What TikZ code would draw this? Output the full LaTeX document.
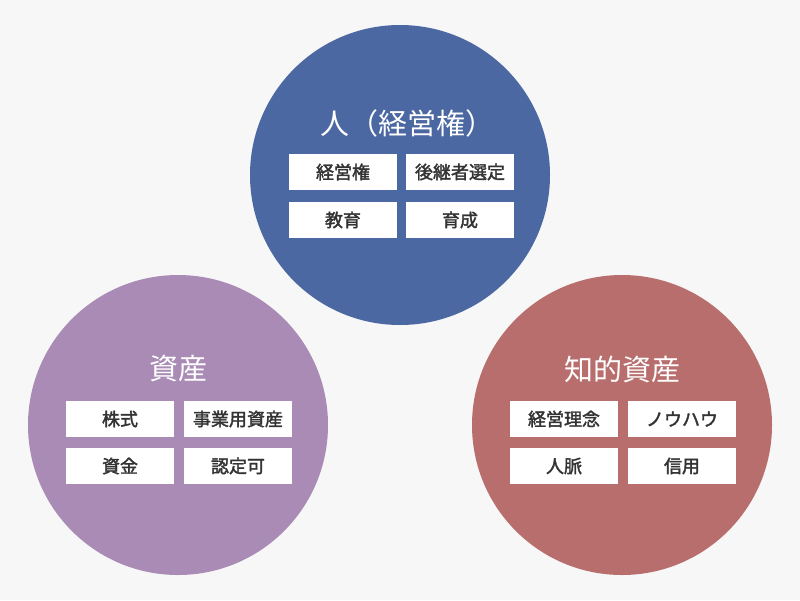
\documentclass[tikz,border=0pt]{standalone}
\usepackage{fontspec}
\setmainfont{Noto Sans CJK JP}
\newfontfamily\jpbold{Noto Sans CJK JP}[FakeBold=2]
\definecolor{bgcol}{HTML}{F7F7F7}
\definecolor{hitocol}{HTML}{4B68A2}
\definecolor{shisancol}{HTML}{A98BB5}
\definecolor{chitekicol}{HTML}{B86E6D}
\definecolor{textcol}{HTML}{333333}
\begin{document}
\begin{tikzpicture}[x=1pt,y=-1pt,
  kou/.style={fill=white,minimum width=108pt,minimum height=36pt,inner sep=0pt,
    font=\jpbold\fontsize{18}{18}\selectfont,text=textcol},
  midashi/.style={text=white,font=\fontsize{29}{29}\selectfont}]
\fill[bgcol] (0,0) rectangle (800,600);
%三つの円
\fill[hitocol] (400,175) circle (150);
\fill[shisancol] (178,425) circle (150);
\fill[chitekicol] (622,425) circle (150);

%人
\node[midashi] (hito) at (407,123) {人（経営権）};
\node[kou] (h1) at (343,172) {経営権};
\node[kou] (h2) at (460,172) {後継者選定};
\node[kou] (h3) at (343,220) {教育};
\node[kou] (h4) at (460,220) {育成};

%資産
\node[midashi] (shisan) at (178,369) {資産};
\node[kou] (s1) at (120,419) {株式};
\node[kou] (s2) at (238,419) {事業用資産};
\node[kou] (s3) at (120,466) {資金};
\node[kou] (s4) at (238,466) {認定可};

%知的資産
\node[midashi] (chiteki) at (622,369) {知的資産};
\node[kou] (c1) at (564,419) {経営理念};
\node[kou] (c2) at (682,419) {ノウハウ};
\node[kou] (c3) at (564,466) {人脈};
\node[kou] (c4) at (682,466) {信用};
\end{tikzpicture}
\end{document}
